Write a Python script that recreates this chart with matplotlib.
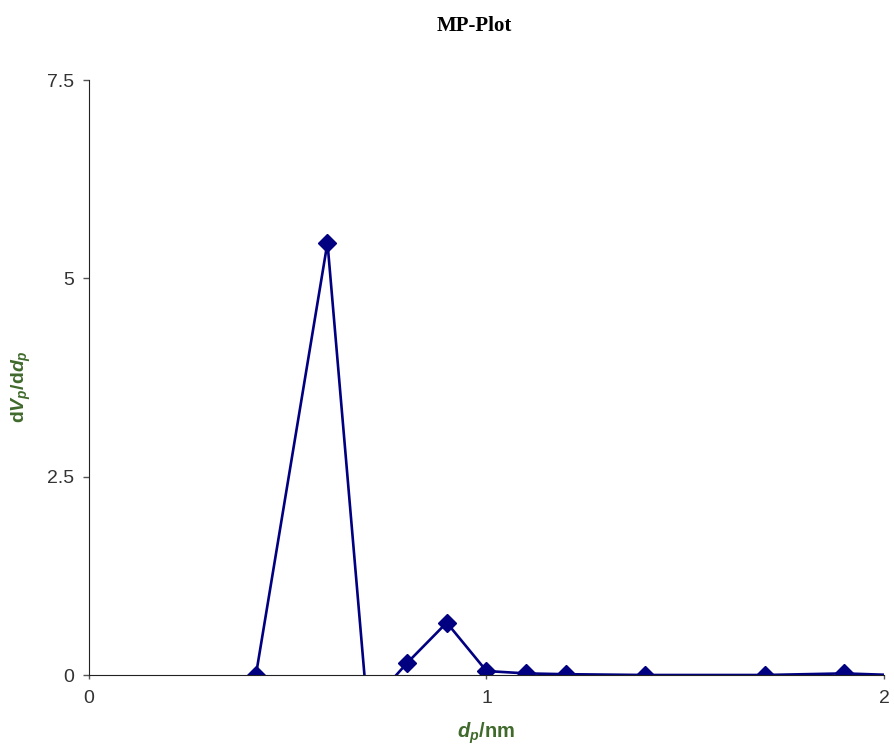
import matplotlib
matplotlib.use("Agg")
import matplotlib.pyplot as plt

# pore diameter (nm) and dVp/ddp
pore_diameter = [0.42, 0.6, 0.7, 0.8, 0.9, 1.0, 1.1, 1.2, 1.4, 1.7, 1.9, 2.2]
dv_ddp = [0.0, 5.45, -0.41, 0.15, 0.66, 0.05, 0.02, 0.01, 0.0, 0.0, 0.02, -0.03]

x_ticks = [0, 1, 2]
y_ticks = [0, 2.5, 5, 7.5]
y_tick_labels = ["0", "2.5", "5", "7.5"]

plt.rcParams["font.family"] = ["Liberation Sans", "DejaVu Sans"]
plt.rcParams["mathtext.fontset"] = "custom"
plt.rcParams["mathtext.it"] = "Liberation Sans:italic:bold"
plt.rcParams["mathtext.rm"] = "Liberation Sans:bold"

fig = plt.figure(figsize=(8.95, 7.5), dpi=100)
ax = fig.add_axes([0.0994, 0.1, 0.8883, 0.7933])

line_color = "#000080"
ax.plot(pore_diameter, dv_ddp, color=line_color, linewidth=1.9,
        marker="D", markersize=9, markerfacecolor=line_color,
        markeredgecolor=line_color)

ax.set_xlim(0, 2)
ax.set_ylim(0, 7.5)
ax.set_xticks(x_ticks)
ax.set_xticklabels([str(t) for t in x_ticks])
ax.set_yticks(y_ticks)
ax.set_yticklabels(y_tick_labels)

# Excel-like axes: only left and bottom lines
ax.spines["top"].set_visible(False)
ax.spines["right"].set_visible(False)
ax.spines["left"].set_color("#222222")
ax.spines["bottom"].set_color("#222222")
ax.tick_params(axis="both", direction="out", width=1, color="#555555",
               labelsize=14, labelcolor="#333333")
ax.tick_params(axis="x", length=3, pad=8)
ax.tick_params(axis="y", length=4, pad=7)

label_color = "#3f6a2c"
ax.set_xlabel(r"$d_p$/nm", fontsize=14.5, fontweight="bold", color=label_color)
ax.xaxis.set_label_coords(0.5, -0.076)
ax.set_ylabel(r"d$V_p$/d$d_p$", fontsize=14, fontweight="bold",
              color=label_color)
ax.yaxis.set_label_coords(-0.070, 0.484)

fig.text(0.53, 0.965, "MP-Plot", ha="center", va="center",
         fontsize=15, fontweight="bold", family="Liberation Serif")

fig.savefig("out.png", dpi=100)
